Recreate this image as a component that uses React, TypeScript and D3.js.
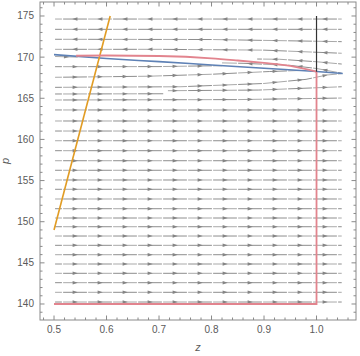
import React from "react";
import * as d3 from "d3";

// ---------- data ----------
const zMajorTicks = [0.5, 0.6, 0.7, 0.8, 0.9, 1.0];
const pMajorTicks = [140, 145, 150, 155, 160, 165, 170, 175];
const zDomain = [0.4733, 1.0752];
const pDomain = [138.055, 176.7];

const streamStart = 0.502;
const streamEnd = 1.048;

// straight streamlines flowing to +z (p levels)
const rightRows = [140.24, 141.42, 142.59, 143.73, 144.86, 145.99, 147.13, 148.26, 149.39, 150.45,
  151.58, 152.76, 153.94, 155.07, 156.25, 157.41, 158.63, 159.84, 161.02, 162.24, 163.58];
// straight streamlines flowing to -z
const leftRows = [174.63, 173.38];

// bent streamlines near the switching curve: [z, p]
const curvedRight: [number, number][][] = [
  [[0.502, 164.79], [0.85, 164.84], [1.048, 165.03]],
  [[0.502, 165.52], [0.708, 165.55]],
  [[0.717, 165.92], [0.89, 166.0], [1.048, 166.4]],
  [[0.502, 166.33], [0.74, 166.4], [0.9, 166.8], [0.98, 167.3], [1.02, 167.83], [1.048, 168.0]],
  [[0.502, 167.55], [0.68, 167.68], [0.8, 167.92], [0.91, 168.25], [0.97, 168.38]],
  [[0.502, 168.84], [0.7, 168.85], [0.78, 168.93], [0.82, 168.95]],
  [[0.502, 170.08], [0.545, 170.0]],
];
const curvedLeft: [number, number][][] = [
  [[0.502, 172.17], [0.8, 172.14], [1.048, 171.88]],
  [[0.502, 170.95], [0.7, 170.95], [0.9, 170.85], [1.048, 170.47]],
  [[0.887, 169.77], [0.93, 169.74], [1.0, 169.44], [1.048, 169.16]],
  [[0.82, 169.3], [0.86, 169.25], [0.95, 169.0], [1.0, 168.62], [1.048, 168.05]],
];

const blueCurve: [number, number][] = [[0.5, 170.3], [0.6, 169.83], [0.7, 169.45], [0.8, 169.05], [0.9, 168.65], [1.0, 168.25], [1.05, 168.02]];
const redTop: [number, number][] = [[0.542, 170.17], [0.6, 170.2], [0.7, 170.14], [0.8, 169.86], [0.85, 169.59], [0.9, 169.29], [0.95, 168.93], [1.0, 168.23]];
const redCorner: [number, number][] = [[1.0, 168.23], [1.0, 140.0], [0.5, 140.0]];
const orangeLine: [number, number][] = [[0.5, 149.0], [0.607, 175.0]];
const blackLine: [number, number][] = [[1.0, 175.0], [1.0, 168.23]];

// ---------- drawing ----------
const L = 40, R = 356, T = 2, B = 320;

function interpY(P: number[][], xv: number) {
  if (xv <= P[0][0]) return P[0][1];
  for (let i = 1; i < P.length; i++) {
    if (xv <= P[i][0]) {
      const t = (xv - P[i - 1][0]) / (P[i][0] - P[i - 1][0]);
      return P[i - 1][1] + t * (P[i][1] - P[i - 1][1]);
    }
  }
  return P[P.length - 1][1];
}

export default function App() {
  const x = d3.scaleLinear().domain(zDomain).range([L, R]);
  const y = d3.scaleLinear().domain(pDomain).range([B, T]);

  const streams: { pts: [number, number][]; dir: number }[] = [];
  rightRows.forEach((p) => streams.push({ pts: [[streamStart, p], [streamEnd, p]], dir: 1 }));
  leftRows.forEach((p) => streams.push({ pts: [[streamStart, p], [streamEnd, p]], dir: -1 }));
  curvedRight.forEach((pts) => streams.push({ pts, dir: 1 }));
  curvedLeft.forEach((pts) => streams.push({ pts, dir: -1 }));

  const spacing = 25;
  const gridX0 = x(0.54);
  const gridX = d3.range(0, 14).map((k) => gridX0 + k * spacing);

  const shades = ["#8e8e8e", "#a9a9a9"];
  const pieces: JSX.Element[] = [];
  const heads: JSX.Element[] = [];

  streams.forEach((s, si) => {
    const P = s.pts.map(([z, p]) => [x(z), y(p)]);
    const xs = P[0][0], xe = P[P.length - 1][0];
    let arrows = gridX.filter((g) => g >= xs + 6 && g <= xe - 5);
    if (arrows.length === 0) arrows = [(xs + xe) / 2];
    const bounds: number[] = [xs];
    for (let i = 0; i < arrows.length - 1; i++) bounds.push((arrows[i] + arrows[i + 1]) / 2);
    bounds.push(xe);
    if (arrows[0] - xs > spacing / 2 + 2) bounds.splice(1, 0, arrows[0] - spacing / 2);
    const last = arrows[arrows.length - 1];
    if (xe - last > spacing / 2 + 2) bounds.splice(bounds.length - 1, 0, last + spacing / 2);
    for (let k = 0; k < bounds.length - 1; k++) {
      const a = bounds[k] + (k > 0 ? 0.6 : 0);
      const b = bounds[k + 1] - (k < bounds.length - 2 ? 0.6 : 0);
      const pts: number[][] = [[a, interpY(P, a)]];
      P.forEach((q) => { if (q[0] > a && q[0] < b) pts.push(q); });
      pts.push([b, interpY(P, b)]);
      const d = d3.line()(pts as [number, number][]) as string;
      pieces.push(<path key={`s${si}-${k}`} d={d} fill="none" stroke={shades[(si + k) % 2]} strokeWidth={1} />);
    }
    arrows.forEach((ax, k) => {
      const ay = interpY(P, ax);
      const dy = interpY(P, ax + 1) - interpY(P, ax - 1);
      let ang = Math.atan2(dy, 2);
      if (s.dir < 0) ang += Math.PI;
      const c = Math.cos(ang), sn = Math.sin(ang);
      const tip = [ax + 2.8 * c, ay + 2.8 * sn];
      const bx = ax - 2.4 * c, by = ay - 2.4 * sn;
      const l = [bx - 1.7 * sn, by + 1.7 * c];
      const r = [bx + 1.7 * sn, by - 1.7 * c];
      heads.push(
        <path key={`h${si}-${k}`} d={`M${tip[0]},${tip[1]}L${l[0]},${l[1]}L${r[0]},${r[1]}Z`} fill="#858585" />
      );
    });
  });

  const lineLin = d3.line<[number, number]>().x((d) => x(d[0])).y((d) => y(d[1]));
  const lineSmooth = d3.line<[number, number]>().x((d) => x(d[0])).y((d) => y(d[1])).curve(d3.curveMonotoneX);

  const zMinor = d3.range(0.48, 1.0701, 0.02).map((v) => Math.round(v * 100) / 100);
  const pMinor = d3.range(139, 177, 1);
  const isMajZ = (v: number) => Math.abs(v * 10 - Math.round(v * 10)) < 1e-6;
  const isMajP = (v: number) => v % 5 === 0;

  const tickColor = "#8a8a8a";
  const textStyle = { fontFamily: "Liberation Sans, Arial, sans-serif", fontSize: 10, fill: "#5a5a5a" } as const;
  const red = "#e2848e";

  return (
    <svg width={360} height={356} style={{ position: "absolute", left: 0, top: 0, display: "block", background: "#fff" }}>
      <rect x={0} y={0} width={360} height={356} fill="#fff" />
      <g>{pieces}</g>
      <g>{heads}</g>
      <path d={lineSmooth(blueCurve) as string} fill="none" stroke="#5e81b5" strokeWidth={1.6} />
      <path d={lineLin(orangeLine) as string} fill="none" stroke="#e19c24" strokeWidth={1.6} />
      <path d={lineSmooth(redTop) as string} fill="none" stroke={red} strokeWidth={1.8} />
      <path d={lineLin(redCorner) as string} fill="none" stroke={red} strokeWidth={1.8} />
      <path d={lineLin(blackLine) as string} fill="none" stroke="#333" strokeWidth={1.2} />

      {/* frame */}
      <rect x={L} y={T} width={R - L} height={B - T} fill="none" stroke={tickColor} strokeWidth={1} />
      {zMinor.map((v) => {
        const len = isMajZ(v) ? 4.5 : 2.5;
        const px = x(v);
        return (
          <g key={`zt${v}`}>
            <line x1={px} x2={px} y1={B} y2={B - len} stroke={tickColor} />
            <line x1={px} x2={px} y1={T} y2={T + len} stroke={tickColor} />
          </g>
        );
      })}
      {pMinor.map((v) => {
        const len = isMajP(v) ? 4.5 : 2.5;
        const py = y(v);
        return (
          <g key={`pt${v}`}>
            <line x1={L} x2={L + len} y1={py} y2={py} stroke={tickColor} />
            <line x1={R} x2={R - len} y1={py} y2={py} stroke={tickColor} />
          </g>
        );
      })}
      {zMajorTicks.map((v) => (
        <text key={`zl${v}`} x={x(v)} y={333} textAnchor="middle" style={textStyle}>{v.toFixed(1)}</text>
      ))}
      {pMajorTicks.map((v) => (
        <text key={`pl${v}`} x={34} y={y(v) + 3.5} textAnchor="end" style={textStyle}>{v}</text>
      ))}
      <text x={(L + R) / 2} y={351} textAnchor="middle" style={{ ...textStyle, fontSize: 11, fontStyle: "italic" }}>z</text>
      <text transform={`translate(9,${(T + B) / 2}) rotate(-90)`} textAnchor="middle" style={{ ...textStyle, fontSize: 11, fontStyle: "italic" }}>p</text>
    </svg>
  );
}
